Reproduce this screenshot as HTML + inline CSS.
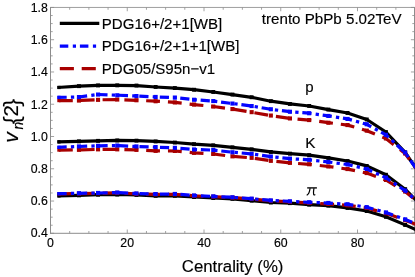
<!DOCTYPE html><html><head><meta charset="utf-8"><style>html,body{margin:0;padding:0;background:#fff}svg{display:block;will-change:transform;opacity:0.999}text{font-family:"Liberation Sans",sans-serif;fill:#000;stroke:#000;stroke-width:0.15px}</style></head><body>
<svg width="415" height="277" viewBox="0 0 415 277">
<rect width="415" height="277" fill="#fff"/>
<path d="M50.5,233.30h3.6M414.5,233.30h-3.6M50.5,225.23h2.2M414.5,225.23h-2.2M50.5,217.17h2.2M414.5,217.17h-2.2M50.5,209.10h2.2M414.5,209.10h-2.2M50.5,201.04h3.6M414.5,201.04h-3.6M50.5,192.97h2.2M414.5,192.97h-2.2M50.5,184.90h2.2M414.5,184.90h-2.2M50.5,176.84h2.2M414.5,176.84h-2.2M50.5,168.77h3.6M414.5,168.77h-3.6M50.5,160.71h2.2M414.5,160.71h-2.2M50.5,152.64h2.2M414.5,152.64h-2.2M50.5,144.57h2.2M414.5,144.57h-2.2M50.5,136.51h3.6M414.5,136.51h-3.6M50.5,128.44h2.2M414.5,128.44h-2.2M50.5,120.38h2.2M414.5,120.38h-2.2M50.5,112.31h2.2M414.5,112.31h-2.2M50.5,104.24h3.6M414.5,104.24h-3.6M50.5,96.18h2.2M414.5,96.18h-2.2M50.5,88.11h2.2M414.5,88.11h-2.2M50.5,80.04h2.2M414.5,80.04h-2.2M50.5,71.98h3.6M414.5,71.98h-3.6M50.5,63.91h2.2M414.5,63.91h-2.2M50.5,55.85h2.2M414.5,55.85h-2.2M50.5,47.78h2.2M414.5,47.78h-2.2M50.5,39.71h3.6M414.5,39.71h-3.6M50.5,31.65h2.2M414.5,31.65h-2.2M50.5,23.58h2.2M414.5,23.58h-2.2M50.5,15.52h2.2M414.5,15.52h-2.2M50.5,7.45h3.6M414.5,7.45h-3.6M50.50,233.3v-3.8M50.50,7.45v3.8M69.69,233.3v-2.3M69.69,7.45v2.3M88.88,233.3v-2.3M88.88,7.45v2.3M108.06,233.3v-2.3M108.06,7.45v2.3M127.25,233.3v-3.8M127.25,7.45v3.8M146.44,233.3v-2.3M146.44,7.45v2.3M165.62,233.3v-2.3M165.62,7.45v2.3M184.81,233.3v-2.3M184.81,7.45v2.3M204.00,233.3v-3.8M204.00,7.45v3.8M223.19,233.3v-2.3M223.19,7.45v2.3M242.38,233.3v-2.3M242.38,7.45v2.3M261.56,233.3v-2.3M261.56,7.45v2.3M280.75,233.3v-3.8M280.75,7.45v3.8M299.94,233.3v-2.3M299.94,7.45v2.3M319.12,233.3v-2.3M319.12,7.45v2.3M338.31,233.3v-2.3M338.31,7.45v2.3M357.50,233.3v-3.8M357.50,7.45v3.8M376.69,233.3v-2.3M376.69,7.45v2.3M395.88,233.3v-2.3M395.88,7.45v2.3" stroke="#8c8c8c" stroke-width="0.8" fill="none"/>
<path d="M50.5,7.05V233.8M414.5,7.05V233.8M50.0,233.3H415.0" fill="none" stroke="#8c8c8c" stroke-width="1"/>
<path d="M50.0,7.45H415.0" fill="none" stroke="#8c8c8c" stroke-width="0.85"/>
<path d="M57.5,87.5 L78.9,86.2 L98.1,85.4 L117.3,85.3 L136.5,85.6 L155.7,87.0 L174.9,88.1 L194.0,89.7 L213.2,92.0 L232.4,94.6 L251.6,97.3 L270.8,101.2 L290.0,103.9 L309.2,106.0 L328.4,109.6 L347.6,113.0 L366.8,119.5 L385.9,132.0 L405.1,152.3 L416.0,168.3" fill="none" stroke="#000" stroke-width="3.2" stroke-linejoin="round"/>
<g fill="#000"><rect x="77.0" y="84.2" width="3.9" height="3.9"/><rect x="96.1" y="83.5" width="3.9" height="3.9"/><rect x="115.3" y="83.4" width="3.9" height="3.9"/><rect x="134.5" y="83.6" width="3.9" height="3.9"/><rect x="153.7" y="85.0" width="3.9" height="3.9"/><rect x="172.9" y="86.1" width="3.9" height="3.9"/><rect x="192.1" y="87.8" width="3.9" height="3.9"/><rect x="211.3" y="90.0" width="3.9" height="3.9"/><rect x="230.5" y="92.6" width="3.9" height="3.9"/><rect x="249.7" y="95.3" width="3.9" height="3.9"/><rect x="268.9" y="99.2" width="3.9" height="3.9"/><rect x="288.0" y="102.0" width="3.9" height="3.9"/><rect x="307.2" y="104.0" width="3.9" height="3.9"/><rect x="326.4" y="107.6" width="3.9" height="3.9"/><rect x="345.6" y="111.0" width="3.9" height="3.9"/><rect x="364.8" y="117.5" width="3.9" height="3.9"/><rect x="384.0" y="130.1" width="3.9" height="3.9"/><rect x="403.2" y="150.4" width="3.9" height="3.9"/><rect x="57.3" y="85.8" width="3.3" height="3.3"/></g>
<path d="M57.5,100.6 L78.9,100.5 L98.1,99.8 L117.3,99.6 L136.5,100.3 L155.7,101.2 L174.9,102.4 L194.0,104.6 L213.2,106.5 L232.4,109.1 L251.6,112.2 L270.8,115.6 L290.0,118.4 L309.2,120.1 L328.4,122.7 L347.6,125.1 L366.8,130.7 L385.9,138.5 L405.1,153.5 L416.0,168.3" fill="none" stroke="#a80000" stroke-width="3.2" stroke-linejoin="round" stroke-dasharray="13.8 8.0" stroke-dashoffset="-1.5"/>
<g fill="#a80000"><rect x="76.9" y="98.5" width="4.1" height="4.1"/><rect x="96.0" y="97.8" width="4.1" height="4.1"/><rect x="115.2" y="97.5" width="4.1" height="4.1"/><rect x="134.4" y="98.2" width="4.1" height="4.1"/><rect x="153.6" y="99.2" width="4.1" height="4.1"/><rect x="172.8" y="100.4" width="4.1" height="4.1"/><rect x="192.0" y="102.5" width="4.1" height="4.1"/><rect x="211.2" y="104.5" width="4.1" height="4.1"/><rect x="230.4" y="107.0" width="4.1" height="4.1"/><rect x="249.6" y="110.1" width="4.1" height="4.1"/><rect x="268.8" y="113.5" width="4.1" height="4.1"/><rect x="287.9" y="116.4" width="4.1" height="4.1"/><rect x="307.1" y="118.0" width="4.1" height="4.1"/><rect x="326.3" y="120.7" width="4.1" height="4.1"/><rect x="345.5" y="123.0" width="4.1" height="4.1"/><rect x="364.7" y="128.6" width="4.1" height="4.1"/><rect x="383.9" y="136.4" width="4.1" height="4.1"/><rect x="403.1" y="151.4" width="4.1" height="4.1"/><rect x="57.3" y="98.9" width="3.3" height="3.3"/></g>
<path d="M57.5,97.4 L78.9,97.0 L98.1,94.5 L117.3,95.2 L136.5,96.0 L155.7,96.9 L174.9,97.6 L194.0,99.7 L213.2,101.1 L232.4,103.5 L251.6,106.0 L270.8,109.3 L290.0,111.7 L309.2,113.2 L328.4,115.9 L347.6,118.9 L366.8,124.3 L385.9,134.8 L405.1,152.6 L416.0,168.3" fill="none" stroke="#0505ff" stroke-width="3.2" stroke-linejoin="round" stroke-dasharray="9.2 4.2 3.3 3.8" stroke-dashoffset="0"/>
<g fill="#0505ff"><rect x="76.9" y="95.0" width="4.1" height="4.1"/><rect x="96.0" y="92.5" width="4.1" height="4.1"/><rect x="115.2" y="93.2" width="4.1" height="4.1"/><rect x="134.4" y="94.0" width="4.1" height="4.1"/><rect x="153.6" y="94.9" width="4.1" height="4.1"/><rect x="172.8" y="95.5" width="4.1" height="4.1"/><rect x="192.0" y="97.7" width="4.1" height="4.1"/><rect x="211.2" y="99.0" width="4.1" height="4.1"/><rect x="230.4" y="101.5" width="4.1" height="4.1"/><rect x="249.6" y="104.0" width="4.1" height="4.1"/><rect x="268.8" y="107.2" width="4.1" height="4.1"/><rect x="287.9" y="109.7" width="4.1" height="4.1"/><rect x="307.1" y="111.2" width="4.1" height="4.1"/><rect x="326.3" y="113.9" width="4.1" height="4.1"/><rect x="345.5" y="116.9" width="4.1" height="4.1"/><rect x="364.7" y="122.2" width="4.1" height="4.1"/><rect x="383.9" y="132.8" width="4.1" height="4.1"/><rect x="403.1" y="150.5" width="4.1" height="4.1"/><rect x="57.3" y="95.8" width="3.3" height="3.3"/></g>
<path d="M57.5,141.9 L78.9,141.3 L98.1,140.8 L117.3,140.4 L136.5,140.6 L155.7,141.4 L174.9,142.5 L194.0,144.2 L213.2,145.3 L232.4,147.3 L251.6,149.3 L270.8,151.9 L290.0,153.7 L309.2,155.2 L328.4,157.9 L347.6,161.0 L366.8,165.9 L385.9,174.7 L405.1,189.2 L416.0,200.2" fill="none" stroke="#000" stroke-width="3.2" stroke-linejoin="round"/>
<g fill="#000"><rect x="77.0" y="139.4" width="3.9" height="3.9"/><rect x="96.1" y="138.9" width="3.9" height="3.9"/><rect x="115.3" y="138.5" width="3.9" height="3.9"/><rect x="134.5" y="138.7" width="3.9" height="3.9"/><rect x="153.7" y="139.5" width="3.9" height="3.9"/><rect x="172.9" y="140.6" width="3.9" height="3.9"/><rect x="192.1" y="142.2" width="3.9" height="3.9"/><rect x="211.3" y="143.4" width="3.9" height="3.9"/><rect x="230.5" y="145.4" width="3.9" height="3.9"/><rect x="249.7" y="147.4" width="3.9" height="3.9"/><rect x="268.9" y="150.0" width="3.9" height="3.9"/><rect x="288.0" y="151.7" width="3.9" height="3.9"/><rect x="307.2" y="153.2" width="3.9" height="3.9"/><rect x="326.4" y="156.0" width="3.9" height="3.9"/><rect x="345.6" y="159.1" width="3.9" height="3.9"/><rect x="364.8" y="164.0" width="3.9" height="3.9"/><rect x="384.0" y="172.8" width="3.9" height="3.9"/><rect x="403.2" y="187.2" width="3.9" height="3.9"/><rect x="57.3" y="140.2" width="3.3" height="3.3"/></g>
<path d="M57.5,150.1 L78.9,149.9 L98.1,149.4 L117.3,149.4 L136.5,149.9 L155.7,150.8 L174.9,151.0 L194.0,152.8 L213.2,154.0 L232.4,156.4 L251.6,157.9 L270.8,160.8 L290.0,162.9 L309.2,164.3 L328.4,166.5 L347.6,169.1 L366.8,173.1 L385.9,180.0 L405.1,191.6 L416.0,200.4" fill="none" stroke="#a80000" stroke-width="3.2" stroke-linejoin="round" stroke-dasharray="13.8 8.0" stroke-dashoffset="-1.5"/>
<g fill="#a80000"><rect x="76.9" y="147.8" width="4.1" height="4.1"/><rect x="96.0" y="147.3" width="4.1" height="4.1"/><rect x="115.2" y="147.3" width="4.1" height="4.1"/><rect x="134.4" y="147.8" width="4.1" height="4.1"/><rect x="153.6" y="148.8" width="4.1" height="4.1"/><rect x="172.8" y="148.9" width="4.1" height="4.1"/><rect x="192.0" y="150.8" width="4.1" height="4.1"/><rect x="211.2" y="151.9" width="4.1" height="4.1"/><rect x="230.4" y="154.3" width="4.1" height="4.1"/><rect x="249.6" y="155.8" width="4.1" height="4.1"/><rect x="268.8" y="158.8" width="4.1" height="4.1"/><rect x="287.9" y="160.8" width="4.1" height="4.1"/><rect x="307.1" y="162.2" width="4.1" height="4.1"/><rect x="326.3" y="164.4" width="4.1" height="4.1"/><rect x="345.5" y="167.0" width="4.1" height="4.1"/><rect x="364.7" y="171.0" width="4.1" height="4.1"/><rect x="383.9" y="177.9" width="4.1" height="4.1"/><rect x="403.1" y="189.5" width="4.1" height="4.1"/><rect x="57.3" y="148.4" width="3.3" height="3.3"/></g>
<path d="M57.5,147.3 L78.9,146.5 L98.1,145.8 L117.3,145.6 L136.5,146.5 L155.7,147.1 L174.9,147.9 L194.0,149.5 L213.2,150.1 L232.4,152.2 L251.6,153.9 L270.8,156.6 L290.0,158.7 L309.2,159.8 L328.4,162.0 L347.6,164.5 L366.8,169.0 L385.9,177.7 L405.1,190.6 L416.0,200.4" fill="none" stroke="#0505ff" stroke-width="3.2" stroke-linejoin="round" stroke-dasharray="9.2 4.2 3.3 3.8" stroke-dashoffset="0"/>
<g fill="#0505ff"><rect x="76.9" y="144.4" width="4.1" height="4.1"/><rect x="96.0" y="143.8" width="4.1" height="4.1"/><rect x="115.2" y="143.5" width="4.1" height="4.1"/><rect x="134.4" y="144.4" width="4.1" height="4.1"/><rect x="153.6" y="145.0" width="4.1" height="4.1"/><rect x="172.8" y="145.8" width="4.1" height="4.1"/><rect x="192.0" y="147.4" width="4.1" height="4.1"/><rect x="211.2" y="148.0" width="4.1" height="4.1"/><rect x="230.4" y="150.2" width="4.1" height="4.1"/><rect x="249.6" y="151.8" width="4.1" height="4.1"/><rect x="268.8" y="154.5" width="4.1" height="4.1"/><rect x="287.9" y="156.6" width="4.1" height="4.1"/><rect x="307.1" y="157.7" width="4.1" height="4.1"/><rect x="326.3" y="159.9" width="4.1" height="4.1"/><rect x="345.5" y="162.4" width="4.1" height="4.1"/><rect x="364.7" y="166.9" width="4.1" height="4.1"/><rect x="383.9" y="175.6" width="4.1" height="4.1"/><rect x="403.1" y="188.5" width="4.1" height="4.1"/><rect x="57.3" y="145.7" width="3.3" height="3.3"/></g>
<path d="M57.5,195.8 L78.9,195.3 L98.1,194.7 L117.3,194.5 L136.5,194.9 L155.7,195.8 L174.9,195.8 L194.0,197.0 L213.2,198.0 L232.4,198.8 L251.6,200.6 L270.8,202.5 L290.0,203.2 L309.2,204.6 L328.4,205.6 L347.6,207.9 L366.8,211.0 L385.9,216.8 L405.1,224.9 L416.0,229.8" fill="none" stroke="#000" stroke-width="3.2" stroke-linejoin="round"/>
<g fill="#000"><rect x="77.0" y="193.4" width="3.9" height="3.9"/><rect x="96.1" y="192.8" width="3.9" height="3.9"/><rect x="115.3" y="192.6" width="3.9" height="3.9"/><rect x="134.5" y="193.0" width="3.9" height="3.9"/><rect x="153.7" y="193.9" width="3.9" height="3.9"/><rect x="172.9" y="193.9" width="3.9" height="3.9"/><rect x="192.1" y="195.1" width="3.9" height="3.9"/><rect x="211.3" y="196.1" width="3.9" height="3.9"/><rect x="230.5" y="196.9" width="3.9" height="3.9"/><rect x="249.7" y="198.7" width="3.9" height="3.9"/><rect x="268.9" y="200.6" width="3.9" height="3.9"/><rect x="288.0" y="201.2" width="3.9" height="3.9"/><rect x="307.2" y="202.7" width="3.9" height="3.9"/><rect x="326.4" y="203.7" width="3.9" height="3.9"/><rect x="345.6" y="206.0" width="3.9" height="3.9"/><rect x="364.8" y="209.1" width="3.9" height="3.9"/><rect x="384.0" y="214.9" width="3.9" height="3.9"/><rect x="403.2" y="223.0" width="3.9" height="3.9"/><rect x="57.3" y="194.2" width="3.3" height="3.3"/></g>
<path d="M57.5,194.0 L78.9,193.6 L98.1,193.3 L117.3,192.9 L136.5,193.8 L155.7,194.4 L174.9,194.3 L194.0,195.8 L213.2,196.7 L232.4,197.6 L251.6,199.0 L270.8,200.8 L290.0,201.8 L309.2,202.9 L328.4,204.0 L347.6,205.3 L366.8,208.0 L385.9,213.3 L405.1,220.3 L416.0,224.4" fill="none" stroke="#a80000" stroke-width="3.2" stroke-linejoin="round" stroke-dasharray="13.8 8.0" stroke-dashoffset="-1.5"/>
<g fill="#a80000"><rect x="76.9" y="191.5" width="4.1" height="4.1"/><rect x="96.0" y="191.2" width="4.1" height="4.1"/><rect x="115.2" y="190.8" width="4.1" height="4.1"/><rect x="134.4" y="191.8" width="4.1" height="4.1"/><rect x="153.6" y="192.3" width="4.1" height="4.1"/><rect x="172.8" y="192.2" width="4.1" height="4.1"/><rect x="192.0" y="193.8" width="4.1" height="4.1"/><rect x="211.2" y="194.6" width="4.1" height="4.1"/><rect x="230.4" y="195.5" width="4.1" height="4.1"/><rect x="249.6" y="196.9" width="4.1" height="4.1"/><rect x="268.8" y="198.8" width="4.1" height="4.1"/><rect x="287.9" y="199.8" width="4.1" height="4.1"/><rect x="307.1" y="200.8" width="4.1" height="4.1"/><rect x="326.3" y="201.9" width="4.1" height="4.1"/><rect x="345.5" y="203.2" width="4.1" height="4.1"/><rect x="364.7" y="205.9" width="4.1" height="4.1"/><rect x="383.9" y="211.2" width="4.1" height="4.1"/><rect x="403.1" y="218.2" width="4.1" height="4.1"/><rect x="57.3" y="192.3" width="3.3" height="3.3"/></g>
<path d="M57.5,193.7 L78.9,193.3 L98.1,193.0 L117.3,192.6 L136.5,193.5 L155.7,194.1 L174.9,194.0 L194.0,195.5 L213.2,196.4 L232.4,197.3 L251.6,198.7 L270.8,200.4 L290.0,201.4 L309.2,202.3 L328.4,203.0 L347.6,204.3 L366.8,207.2 L385.9,212.5 L405.1,219.4 L416.0,223.8" fill="none" stroke="#0505ff" stroke-width="3.2" stroke-linejoin="round" stroke-dasharray="9.2 4.2 3.3 3.8" stroke-dashoffset="0"/>
<g fill="#0505ff"><rect x="76.9" y="191.2" width="4.1" height="4.1"/><rect x="96.0" y="190.9" width="4.1" height="4.1"/><rect x="115.2" y="190.5" width="4.1" height="4.1"/><rect x="134.4" y="191.4" width="4.1" height="4.1"/><rect x="153.6" y="192.0" width="4.1" height="4.1"/><rect x="172.8" y="191.9" width="4.1" height="4.1"/><rect x="192.0" y="193.4" width="4.1" height="4.1"/><rect x="211.2" y="194.3" width="4.1" height="4.1"/><rect x="230.4" y="195.2" width="4.1" height="4.1"/><rect x="249.6" y="196.6" width="4.1" height="4.1"/><rect x="268.8" y="198.4" width="4.1" height="4.1"/><rect x="287.9" y="199.3" width="4.1" height="4.1"/><rect x="307.1" y="200.2" width="4.1" height="4.1"/><rect x="326.3" y="200.9" width="4.1" height="4.1"/><rect x="345.5" y="202.2" width="4.1" height="4.1"/><rect x="364.7" y="205.1" width="4.1" height="4.1"/><rect x="383.9" y="210.4" width="4.1" height="4.1"/><rect x="403.1" y="217.3" width="4.1" height="4.1"/><rect x="57.3" y="192.0" width="3.3" height="3.3"/></g>
<path d="M59.8,23.45H99.3" stroke="#000" stroke-width="3.3"/>
<path d="M59.8,46.1H98.6" stroke="#0505ff" stroke-width="3.3" stroke-dasharray="8.5 4.5 3.2 3.9"/>
<path d="M59.8,68.55H98.6" stroke="#a80000" stroke-width="3.3" stroke-dasharray="14.1 7.8"/>
<g font-size="15.05">
<text x="101.8" y="28.8">PDG16+/2+1[WB]</text>
<text x="101.8" y="50.5">PDG16+/2+1+1[WB]</text>
<text x="101.8" y="73.9">PDG05/S95n−v1</text>
<text x="261.8" y="24.3" font-size="15.15">trento PbPb 5.02TeV</text>
</g>
<text x="305.2" y="91.6" font-size="15">p</text>
<text x="305.3" y="148" font-size="15.3">K</text>
<g fill="none" stroke="#000" stroke-linecap="round"><path d="M307.2,187.9H316.9" stroke-width="1.35" stroke-linecap="butt"/><path d="M310.0,188.6C309.6,191.5 308.9,193.9 307.1,195.0M313.9,188.6C313.6,190.6 313.2,193 313.6,194.2C313.9,195.0 314.4,195.1 314.9,194.8" stroke-width="1.2"/></g>
<g font-size="12.3" text-anchor="end">
<text x="47.9" y="237.3">0.4</text>
<text x="47.9" y="205.1">0.6</text>
<text x="47.9" y="172.9">0.8</text>
<text x="47.9" y="140.7">1.0</text>
<text x="47.9" y="108.5">1.2</text>
<text x="47.9" y="76.3">1.4</text>
<text x="47.9" y="44.1">1.6</text>
<text x="47.9" y="11.9">1.8</text>
</g>
<g font-size="12.3" text-anchor="middle">
<text x="50.5" y="247.2">0</text>
<text x="127.2" y="247.2">20</text>
<text x="204.0" y="247.2">40</text>
<text x="280.8" y="247.2">60</text>
<text x="357.5" y="247.2">80</text>
</g>
<text x="232.6" y="271.9" font-size="16.8" text-anchor="middle">Centrality (%)</text>
<g transform="translate(17.9,141.9) rotate(-90)" font-size="21"><text x="-0.9" y="0" font-style="italic">v</text><text x="12.5" y="4.9" font-style="italic" font-size="13.8">n</text><text x="18.0" y="1.5" font-size="22.6">{</text><text x="25.3" y="0" font-size="20.5">2</text><text x="35.5" y="1.5" font-size="22.6">}</text></g>
</svg></body></html>
